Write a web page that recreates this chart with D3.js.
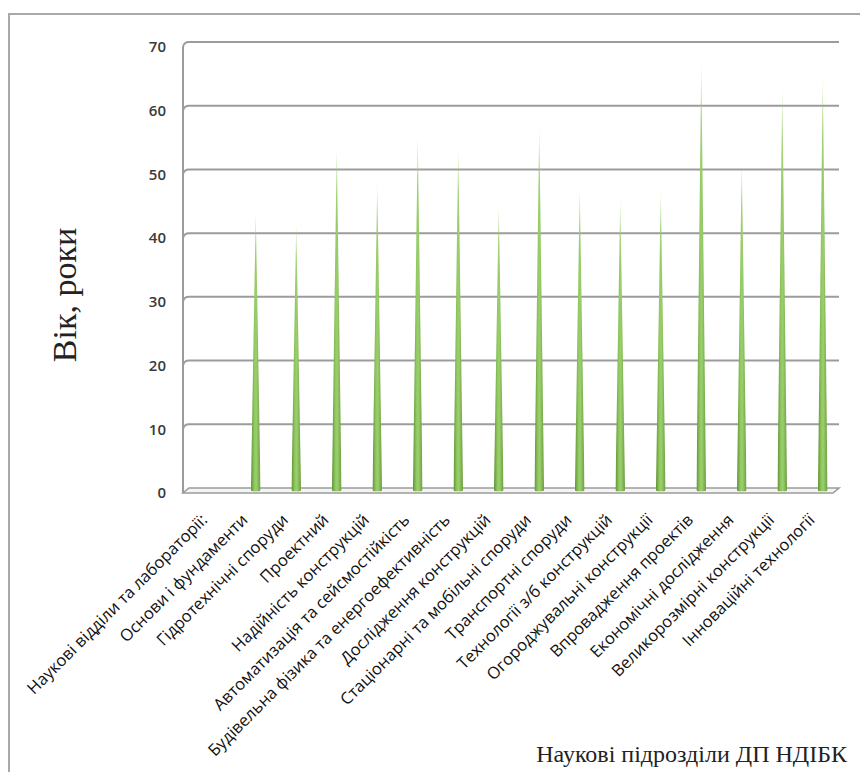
<!DOCTYPE html>
<html>
<head>
<meta charset="utf-8">
<script src="https://cdn.jsdelivr.net/npm/d3@7/dist/d3.min.js"></script>
<style>
  html, body { margin: 0; padding: 0; background: #fff; }
  svg { display: block; }
</style>
</head>
<body>
<div id="chart"></div>
<script>
var categories = [
	"Наукові відділи та лабораторії:",
	"Основи і фундаменти",
	"Гідротехнічні споруди",
	"Проектний",
	"Надійність конструкцій",
	"Автоматизація та сейсмостійкість",
	"Будівельна фізика та енергоефективність",
	"Дослідження конструкцій",
	"Стаціонарні та мобільні споруди",
	"Транспортні споруди",
	"Технології з/б конструкцій",
	"Огороджувальні конструкції",
	"Впровадження проектів",
	"Економічні дослідження",
	"Великорозмірні конструкції",
	"Інноваційні технології"
];
var ages = [0, 43.3, 41.4, 53.5, 48, 55.3, 53.4, 44.4, 56.7, 47.1, 45.4, 46.6, 66.7, 51.2, 62.8, 64.5];
var yTicks = [0, 10, 20, 30, 40, 50, 60, 70];
var yTitle = "Вік, роки";
var xTitle = "Наукові підрозділи ДП НДІБК";

(function() {
	"use strict";

	var width = 860,
		height = 772,
		wallX = 183,      // front edge of the left wall
		depth = 6,        // 3d offset of the back wall
		gridRight = 839,
		baseHalf = 4.8;

	var svg = d3.select("#chart")
		.append("svg")
		.attr("width", width)
		.attr("height", height);

	var defs = svg.append("defs");

	var side = defs.append("linearGradient")
		.attr("id", "cone-side")
		.attr("x1", 0).attr("x2", 1).attr("y1", 0).attr("y2", 0);
	side.append("stop").attr("offset", "0%").attr("stop-color", "#5e9234");
	side.append("stop").attr("offset", "35%").attr("stop-color", "#8fc860");
	side.append("stop").attr("offset", "55%").attr("stop-color", "#9ccf6c");
	side.append("stop").attr("offset", "100%").attr("stop-color", "#6c9e40");

	var fade = defs.append("linearGradient")
		.attr("id", "cone-fade")
		.attr("x1", 0).attr("x2", 0).attr("y1", 0).attr("y2", 1);
	fade.append("stop").attr("offset", "0%").attr("stop-color", "#555");
	fade.append("stop").attr("offset", "12%").attr("stop-color", "#ddd");
	fade.append("stop").attr("offset", "22%").attr("stop-color", "#fff");
	fade.append("stop").attr("offset", "100%").attr("stop-color", "#fff");

	defs.append("mask")
		.attr("id", "cone-mask")
		.attr("maskContentUnits", "objectBoundingBox")
		.append("rect")
		.attr("width", 1).attr("height", 1)
		.attr("fill", "url(#cone-fade)");

	// outer frame
	svg.append("path")
		.attr("d", "M9," + height + "V14H" + width)
		.attr("fill", "none")
		.attr("stroke", "#a9a9a9")
		.attr("stroke-width", 2);

	var x = d3.scaleBand()
		.domain(categories)
		.range([195, 843]);

	var y = d3.scaleLinear()
		.domain([0, 70])
		.range([488, 42]);

	// back wall gridlines with the short bend onto the side wall
	var grid = svg.append("g").classed("grid", true);

	grid.selectAll("path")
		.data(yTicks.filter(function(d) { return d > 0; }))
		.enter()
		.append("path")
		.attr("d", function(d) {
			var gy = y(d);
			return "M" + wallX + "," + (gy + 5) +
				"Q" + (wallX + 1) + "," + gy + " " + (wallX + depth) + "," + gy +
				"H" + gridRight;
		})
		.attr("fill", "none")
		.attr("stroke", "#9c9c9c")
		.attr("stroke-width", 2);

	grid.append("line")
		.attr("x1", wallX).attr("x2", wallX)
		.attr("y1", y(70) + 5).attr("y2", y(0) + 5)
		.attr("stroke", "#9c9c9c")
		.attr("stroke-width", 2);

	// floor
	grid.append("path")
		.attr("d", "M" + wallX + "," + (y(0) + 5) +
			"L" + (wallX + depth) + "," + y(0) +
			"H" + gridRight +
			"L" + (gridRight - depth) + "," + (y(0) + 5) + "Z")
		.attr("fill", "#f4f4f4")
		.attr("stroke", "#9c9c9c")
		.attr("stroke-width", 1.6);

	// y tick labels (drawn on the front edge)
	svg.append("g")
		.selectAll("text")
		.data(yTicks)
		.enter()
		.append("text")
		.attr("x", 166)
		.attr("y", function(d) { return y(d) + 5; })
		.attr("dy", "0.35em")
		.attr("text-anchor", "end")
		.attr("font-family", "'Open Sans', sans-serif")
		.attr("font-size", 15)
		.attr("font-weight", 600)
		.attr("fill", "#3a3a3a")
		.text(function(d) { return d; });

	// cones
	var cones = svg.append("g").classed("cones", true)
		.selectAll("g")
		.data(categories.map(function(c, i) { return { name: c, value: ages[i] }; })
			.filter(function(d) { return d.value > 0; }))
		.enter()
		.append("g");

	cones.append("path")
		.attr("d", function(d) {
			var cx = x(d.name) + x.bandwidth() / 2,
				by = y(0) + 2;
			return "M" + (cx - baseHalf) + "," + by +
				"L" + cx + "," + y(d.value) +
				"L" + (cx + baseHalf) + "," + by +
				"A" + baseHalf + ",1.6 0 0 1 " + (cx - baseHalf) + "," + by + "Z";
		})
		.attr("fill", "url(#cone-side)")
		.attr("mask", "url(#cone-mask)");

	// category labels
	svg.append("g")
		.selectAll("text")
		.data(categories)
		.enter()
		.append("text")
		.attr("transform", function(d) {
			var cx = x(d) + x.bandwidth() / 2;
			return "translate(" + (cx - 7) + ",521) rotate(-45)";
		})
		.attr("text-anchor", "end")
		.attr("font-family", "'Open Sans', sans-serif")
		.attr("font-size", 16.5)
		.attr("fill", "#111")
		.text(function(d) { return d; });

	// axis titles
	svg.append("text")
		.attr("transform", "translate(76,295) rotate(-90)")
		.attr("text-anchor", "middle")
		.attr("font-family", "'Liberation Serif', serif")
		.attr("font-size", 34)
		.attr("fill", "#222")
		.text(yTitle);

	svg.append("text")
		.attr("x", 847)
		.attr("y", 762)
		.attr("text-anchor", "end")
		.attr("font-family", "'Liberation Serif', serif")
		.attr("font-size", 24)
		.attr("fill", "#222")
		.text(xTitle);
})();
</script>
</body>
</html>
